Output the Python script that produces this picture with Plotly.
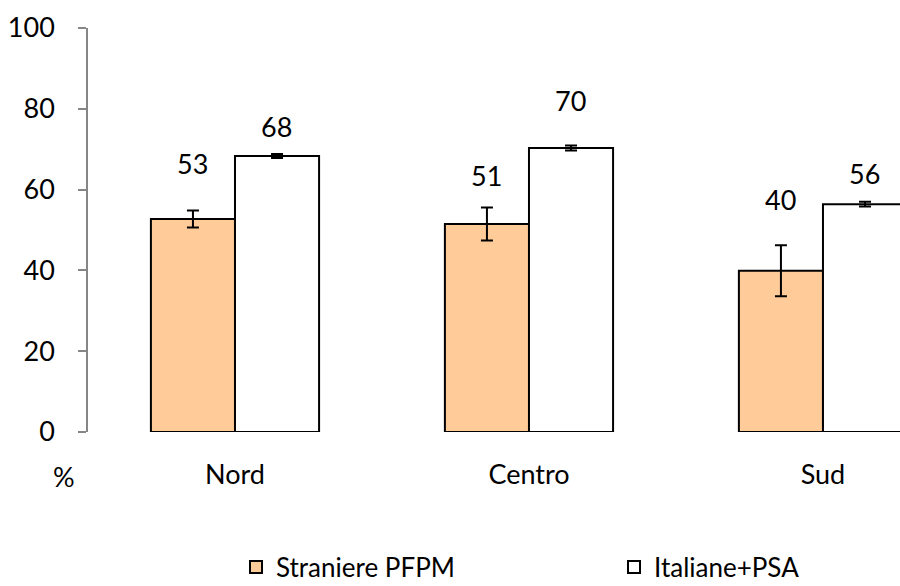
import plotly.graph_objects as go

categories = ["Nord", "Centro", "Sud"]
straniere = [52.7, 51.5, 39.9]
straniere_err = [2.1, 4.1, 6.3]
straniere_labels = ["53", "51", "40"]
italiane = [68.3, 70.3, 56.4]
italiane_err = [0.5, 0.6, 0.6]
italiane_labels = ["68", "70", "56"]
y_ticks = [0, 20, 40, 60, 80, 100]

FONT = "Lato, 'Open Sans', sans-serif"
FS = 27

fig = go.Figure()
fig.add_trace(go.Bar(
    name="Straniere PFPM", x=categories, y=straniere, legend="legend",
    marker=dict(color="#FFCC99", line=dict(color="black", width=2)),
    error_y=dict(type="data", array=straniere_err, color="black", thickness=2, width=6),
))
fig.add_trace(go.Bar(
    name="Italiane+PSA", x=categories, y=italiane, legend="legend2",
    marker=dict(color="white", line=dict(color="black", width=2)),
    error_y=dict(type="data", array=italiane_err, color="black", thickness=2, width=6),
))

# value labels above bars
lab_off_s = [47, 32, 46]
lab_off_i = [28, 45, 28]
for i, c in enumerate(categories):
    fig.add_annotation(x=c, xshift=-42, y=straniere[i] + straniere_err[i], yshift=lab_off_s[i],
                       text=straniere_labels[i], showarrow=False, yanchor="middle",
                       font=dict(family=FONT, size=FS, color="black"))
    fig.add_annotation(x=c, xshift=42, y=italiane[i] + italiane_err[i], yshift=lab_off_i[i],
                       text=italiane_labels[i], showarrow=False, yanchor="middle",
                       font=dict(family=FONT, size=FS, color="black"))

fig.add_annotation(xref="paper", yref="paper", x=-24/812, y=-44/404, text="%",
                   showarrow=False, xanchor="center", yanchor="middle",
                   font=dict(family=FONT, size=FS, color="black"))

leg_common = dict(orientation="h", xanchor="left", yanchor="middle",
                  y=-(567 - 432) / 404, bgcolor="rgba(0,0,0,0)",
                  font=dict(family=FONT, size=26, color="black"))
fig.update_layout(
    width=900, height=586,
    margin=dict(l=88, r=0, t=28, b=154, autoexpand=False),
    paper_bgcolor="white", plot_bgcolor="white",
    barmode="group", bargap=0.428, bargroupgap=0,
    font=dict(family=FONT, size=FS, color="black"),
    showlegend=True,
    legend=dict(x=(236 - 88) / 812, **leg_common),
    legend2=dict(x=(614 - 88) / 812, **leg_common),
)
fig.update_xaxes(range=[-0.5, 2.262], showline=False, showgrid=False, zeroline=False,
                 automargin=False, ticks="", ticklabelstandoff=24,
                 tickfont=dict(family=FONT, size=FS))
fig.update_yaxes(range=[0, 100], tickvals=y_ticks, showgrid=False, zeroline=False,
                 automargin=False, showline=True, linecolor="#868686", linewidth=1.5,
                 ticks="outside", ticklen=8, tickcolor="#868686", tickwidth=1.5,
                 ticklabelstandoff=18, tickfont=dict(family=FONT, size=FS))

fig.write_html("out.html", config={"displayModeBar": False},
               post_script="document.body.style.margin='0';document.body.style.overflow='hidden';")
